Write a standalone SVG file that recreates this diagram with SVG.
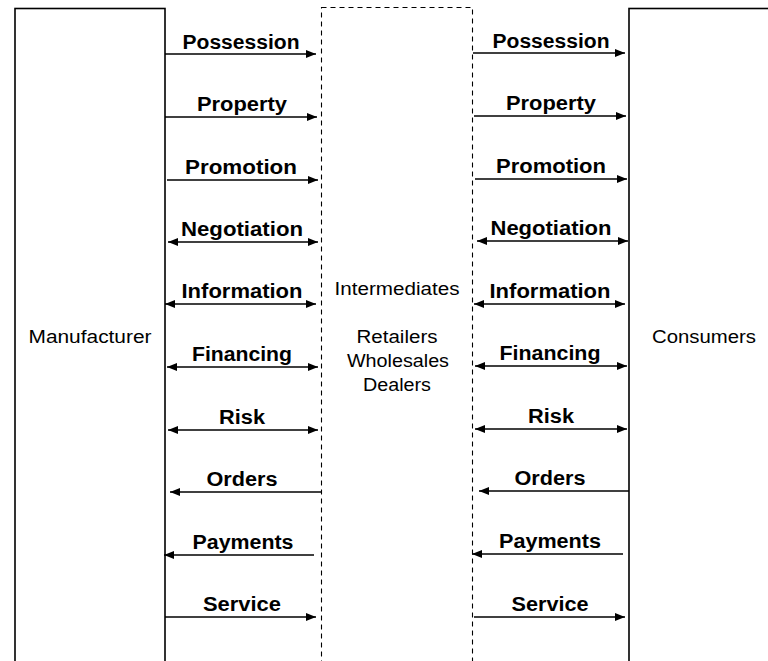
<svg xmlns="http://www.w3.org/2000/svg" width="768" height="661" viewBox="0 0 768 661">
  <defs>
    <marker id="head" viewBox="0 0 10 8" markerWidth="10" markerHeight="8" refX="10" refY="4" markerUnits="userSpaceOnUse" orient="auto-start-reverse">
      <path d="M0,0 L10,4 L0,8 z" fill="#000"/>
    </marker>
    <style>
      .box { fill: #fff; stroke: #000; stroke-width: 1.6; }
      .dash { fill: none; stroke: #000; stroke-width: 1.1; stroke-dasharray: 5 4; }
      .name { font-family: "Liberation Sans", Arial, Helvetica, sans-serif; font-size: 17.5px; fill: #000; text-anchor: middle; }
      .lbl { font-family: "Liberation Sans", Arial, Helvetica, sans-serif; font-size: 19.5px; font-weight: bold; fill: #000; text-anchor: middle; }
      .ln { stroke: #000; stroke-width: 1.6; fill: none; }
      .fwd { marker-end: url(#head); }
      .back { marker-start: url(#head); }
      .both { marker-start: url(#head); marker-end: url(#head); }
    </style>
  </defs>

  <rect width="768" height="661" fill="#fff"/>

  <!-- parties -->
  <g id="manufacturer">
    <rect class="box" x="15" y="8.5" width="150" height="700"/>
    <text class="name" x="90" y="343" textLength="123" lengthAdjust="spacingAndGlyphs">Manufacturer</text>
  </g>
  <g id="intermediates">
    <rect class="dash" x="321.5" y="7.5" width="151" height="700"/>
    <text class="name" x="397" y="295" textLength="125" lengthAdjust="spacingAndGlyphs">Intermediates</text>
    <text class="name" x="397" y="343" textLength="81" lengthAdjust="spacingAndGlyphs">Retailers</text>
    <text class="name" x="398" y="367" textLength="102" lengthAdjust="spacingAndGlyphs">Wholesales</text>
    <text class="name" x="397" y="391" textLength="68" lengthAdjust="spacingAndGlyphs">Dealers</text>
  </g>
  <g id="consumers">
    <rect class="box" x="629" y="8.5" width="160" height="700"/>
    <text class="name" x="704" y="343" textLength="104" lengthAdjust="spacingAndGlyphs">Consumers</text>
  </g>

  <!-- flows between the parties -->
  <g id="connectors">
    <!-- manufacturer to intermediates -->
    <line class="ln fwd" x1="165" y1="54" x2="316" y2="54"/>
    <line class="ln fwd" x1="165" y1="117" x2="317" y2="117"/>
    <line class="ln fwd" x1="167" y1="180" x2="318" y2="180"/>
    <line class="ln both" x1="168" y1="242" x2="318" y2="242"/>
    <line class="ln both" x1="165" y1="304" x2="316" y2="304"/>
    <line class="ln both" x1="167" y1="367" x2="318" y2="367"/>
    <line class="ln both" x1="168" y1="430" x2="318" y2="430"/>
    <line class="ln back" x1="170" y1="492" x2="321" y2="492"/>
    <line class="ln back" x1="164" y1="555" x2="314" y2="555"/>
    <line class="ln fwd" x1="165" y1="617" x2="316" y2="617"/>

    <!-- intermediates to consumers -->
    <line class="ln fwd" x1="473" y1="53" x2="625" y2="53"/>
    <line class="ln fwd" x1="474" y1="116" x2="626" y2="116"/>
    <line class="ln fwd" x1="475" y1="179" x2="627" y2="179"/>
    <line class="ln both" x1="477" y1="241" x2="628" y2="241"/>
    <line class="ln both" x1="474" y1="304" x2="625" y2="304"/>
    <line class="ln both" x1="475" y1="366" x2="627" y2="366"/>
    <line class="ln both" x1="475" y1="429" x2="627" y2="429"/>
    <line class="ln back" x1="479" y1="491" x2="629" y2="491"/>
    <line class="ln back" x1="472" y1="554" x2="623" y2="554"/>
    <line class="ln fwd" x1="474" y1="617" x2="625" y2="617"/>
  </g>

  <!-- flow labels -->
  <g id="labels-left">
    <text class="lbl" x="241" y="49" textLength="117" lengthAdjust="spacingAndGlyphs">Possession</text>
    <text class="lbl" x="242" y="111" textLength="90" lengthAdjust="spacingAndGlyphs">Property</text>
    <text class="lbl" x="241" y="174" textLength="112" lengthAdjust="spacingAndGlyphs">Promotion</text>
    <text class="lbl" x="242" y="236" textLength="122" lengthAdjust="spacingAndGlyphs">Negotiation</text>
    <text class="lbl" x="242" y="298" textLength="121" lengthAdjust="spacingAndGlyphs">Information</text>
    <text class="lbl" x="242" y="361" textLength="100" lengthAdjust="spacingAndGlyphs">Financing</text>
    <text class="lbl" x="242" y="424" textLength="46" lengthAdjust="spacingAndGlyphs">Risk</text>
    <text class="lbl" x="242" y="486" textLength="71" lengthAdjust="spacingAndGlyphs">Orders</text>
    <text class="lbl" x="243" y="549" textLength="101" lengthAdjust="spacingAndGlyphs">Payments</text>
    <text class="lbl" x="242" y="611" textLength="78" lengthAdjust="spacingAndGlyphs">Service</text>
  </g>
  <g id="labels-right">
    <text class="lbl" x="551" y="48" textLength="117" lengthAdjust="spacingAndGlyphs">Possession</text>
    <text class="lbl" x="551" y="110" textLength="90" lengthAdjust="spacingAndGlyphs">Property</text>
    <text class="lbl" x="551" y="173" textLength="110" lengthAdjust="spacingAndGlyphs">Promotion</text>
    <text class="lbl" x="551" y="235" textLength="121" lengthAdjust="spacingAndGlyphs">Negotiation</text>
    <text class="lbl" x="550" y="298" textLength="121" lengthAdjust="spacingAndGlyphs">Information</text>
    <text class="lbl" x="550" y="360" textLength="101" lengthAdjust="spacingAndGlyphs">Financing</text>
    <text class="lbl" x="551" y="423" textLength="46" lengthAdjust="spacingAndGlyphs">Risk</text>
    <text class="lbl" x="550" y="485" textLength="71" lengthAdjust="spacingAndGlyphs">Orders</text>
    <text class="lbl" x="550" y="548" textLength="102" lengthAdjust="spacingAndGlyphs">Payments</text>
    <text class="lbl" x="550" y="611" textLength="77" lengthAdjust="spacingAndGlyphs">Service</text>
  </g>
</svg>
